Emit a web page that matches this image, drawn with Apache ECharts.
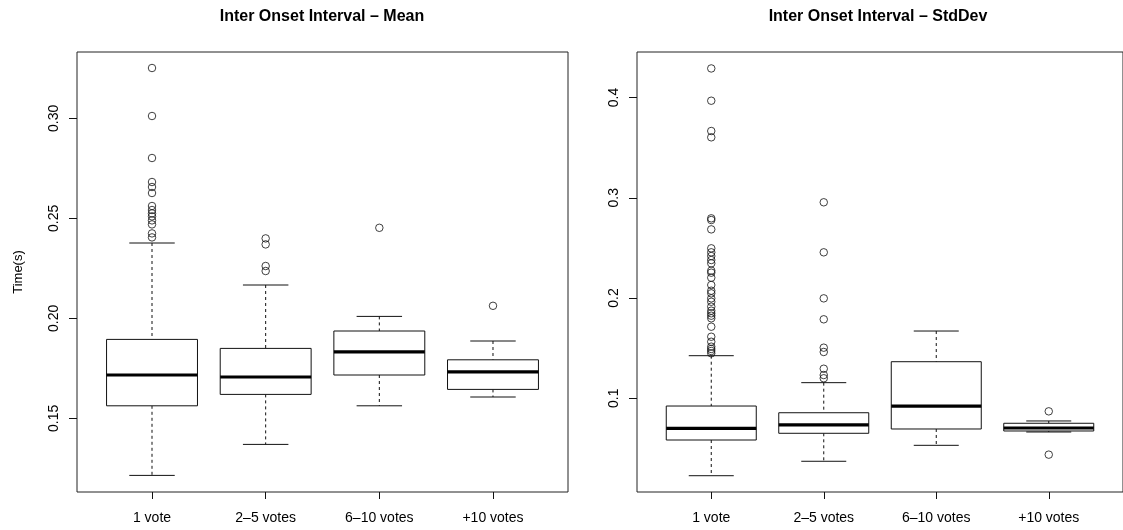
<!DOCTYPE html>
<html>
<head>
<meta charset="utf-8">
<script src="https://cdn.jsdelivr.net/npm/echarts@6/dist/echarts.min.js"></script>
<style>
html,body{margin:0;padding:0;background:#fff;}
#chart{width:1123px;height:530px;}
</style>
</head>
<body>
<div id="chart"></div>
<script>
const categories = ['1 vote', '2\u20135 votes', '6\u201310 votes', '+10 votes'];
const catPositions = [1, 2, 3, 4];

// Left panel: Inter Onset Interval – Mean
const meanLower  = [0.1215, 0.1370, 0.1563, 0.1607];
const meanQ1     = [0.1563, 0.1620, 0.1717, 0.1645];
const meanMedian = [0.1717, 0.1707, 0.1833, 0.1733];
const meanQ3     = [0.1895, 0.1850, 0.1937, 0.1793];
const meanUpper  = [0.2377, 0.2167, 0.2010, 0.1887];
const meanOutliers1 = [0.3252, 0.3012, 0.2802, 0.2682, 0.2657, 0.2627, 0.2562, 0.2542, 0.2525, 0.2510, 0.2490, 0.2470, 0.2425, 0.2405];
const meanOutliers2 = [0.2400, 0.2370, 0.2262, 0.2237];
const meanOutliers3 = [0.2453];
const meanOutliers4 = [0.2063];
const meanTicks = [0.15, 0.20, 0.25, 0.30];

// Right panel: Inter Onset Interval – StdDev
const sdLower  = [0.0228, 0.0372, 0.0531, 0.0664];
const sdQ1     = [0.0584, 0.0651, 0.0694, 0.0674];
const sdMedian = [0.0701, 0.0734, 0.0923, 0.0704];
const sdQ3     = [0.0923, 0.0856, 0.1365, 0.0751];
const sdUpper  = [0.1425, 0.1156, 0.1671, 0.0774];
const sdOutliers1 = [0.4290, 0.3968, 0.3666, 0.3603, 0.2795, 0.2778, 0.2685, 0.2496, 0.2456, 0.2419, 0.2379, 0.2346, 0.2273, 0.2253, 0.2203, 0.2130, 0.2073, 0.2047, 0.1997, 0.1963, 0.1914, 0.1874, 0.1848, 0.1824, 0.1798, 0.1714, 0.1614, 0.1564, 0.1515, 0.1492, 0.1472, 0.1449];
const sdOutliers2 = [0.2955, 0.2456, 0.1997, 0.1788, 0.1505, 0.1462, 0.1295, 0.1232, 0.1200];
const sdOutliers3 = [];
const sdOutliers4 = [0.0870, 0.0438];
const sdTicks = [0.1, 0.2, 0.3, 0.4];

const FONT = '"Liberation Sans", Arial, Helvetica, sans-serif';
const INK = '#111';

function boxData(lo, q1, med, q3, hi) {
  return catPositions.map((x, i) => [x, lo[i], q1[i], med[i], q3[i], hi[i]]);
}
function outlierData(groups) {
  const out = [];
  groups.forEach((g, i) => g.forEach(v => out.push([catPositions[i], v])));
  return out;
}

function renderBox(params, api) {
  const x = api.value(0), lo = api.value(1), q1 = api.value(2), med = api.value(3), q3 = api.value(4), hi = api.value(5);
  const half = 0.4, cap = 0.2;
  const pTL = api.coord([x - half, q3]);
  const pBR = api.coord([x + half, q1]);
  const mL = api.coord([x - half, med]);
  const mR = api.coord([x + half, med]);
  const c = api.coord([x, hi]);
  const cq3 = api.coord([x, q3]);
  const cq1 = api.coord([x, q1]);
  const cl = api.coord([x, lo]);
  const capHL = api.coord([x - cap, hi]), capHR = api.coord([x + cap, hi]);
  const capLL = api.coord([x - cap, lo]), capLR = api.coord([x + cap, lo]);
  const ls = {stroke: INK, lineWidth: 1, fill: null};
  const dash = {stroke: INK, lineWidth: 1, lineDash: [3, 3], fill: null};
  return {
    type: 'group',
    children: [
      {type: 'line', shape: {x1: c[0], y1: c[1], x2: cq3[0], y2: cq3[1]}, style: dash},
      {type: 'line', shape: {x1: cq1[0], y1: cq1[1], x2: cl[0], y2: cl[1]}, style: dash},
      {type: 'line', shape: {x1: capHL[0], y1: capHL[1], x2: capHR[0], y2: capHR[1]}, style: ls},
      {type: 'line', shape: {x1: capLL[0], y1: capLL[1], x2: capLR[0], y2: capLR[1]}, style: ls},
      {type: 'rect', shape: {x: pTL[0], y: pTL[1], width: pBR[0] - pTL[0], height: pBR[1] - pTL[1]}, style: {stroke: INK, lineWidth: 1, fill: '#fff'}},
      {type: 'line', shape: {x1: mL[0], y1: mL[1], x2: mR[0], y2: mR[1]}, style: {stroke: '#000', lineWidth: 3.2}}
    ]
  };
}

function xAxisDef(gridIndex) {
  return {
    type: 'value', gridIndex: gridIndex, min: 0.34, max: 4.66,
    axisLine: {show: false},
    splitLine: {show: false},
    axisTick: {show: true, inside: false, length: 7, customValues: catPositions, lineStyle: {color: INK, width: 1}},
    axisLabel: {show: true, customValues: catPositions, margin: 19, fontFamily: FONT, fontSize: 14, color: '#000',
      formatter: v => categories[Math.round(v) - 1]}
  };
}
function yAxisDef(gridIndex, min, max, ticks, digits, name) {
  return {
    type: 'value', gridIndex: gridIndex, min: min, max: max,
    name: name || '', nameLocation: 'middle', nameGap: 52, nameRotate: 90,
    nameTextStyle: {fontFamily: FONT, fontSize: 13, color: '#000'},
    axisLine: {show: false},
    splitLine: {show: false},
    axisTick: {show: true, inside: false, length: 8, customValues: ticks, lineStyle: {color: INK, width: 1}},
    axisLabel: {show: true, customValues: ticks, rotate: 90, margin: 16, fontFamily: FONT, fontSize: 14, color: '#000',
      formatter: v => Number(v).toFixed(digits)}
  };
}
const scatterStyle = {color: 'rgba(0,0,0,0)', borderColor: INK, borderWidth: 1};

const chart = echarts.init(document.getElementById('chart'), null, {renderer: 'canvas'});
chart.setOption({
  animation: false,
  backgroundColor: '#fff',
  title: [
    {text: 'Inter Onset Interval \u2013 Mean', left: 322, top: 9, textAlign: 'center', padding: 0,
      textStyle: {fontFamily: FONT, fontSize: 16, fontWeight: 'bold', color: '#000'}},
    {text: 'Inter Onset Interval \u2013 StdDev', left: 878, top: 9, textAlign: 'center', padding: 0,
      textStyle: {fontFamily: FONT, fontSize: 16, fontWeight: 'bold', color: '#000'}}
  ],
  grid: [
    {left: 77, top: 52, width: 491, height: 440, show: true, borderColor: '#222', borderWidth: 1, backgroundColor: 'transparent'},
    {left: 637, top: 52, width: 491, height: 440, show: true, borderColor: '#222', borderWidth: 1, backgroundColor: 'transparent'}
  ],
  xAxis: [xAxisDef(0), xAxisDef(1)],
  yAxis: [
    yAxisDef(0, 0.1132, 0.3332, meanTicks, 2, 'Time(s)'),
    yAxisDef(1, 0.00655, 0.4454, sdTicks, 1, '')
  ],
  series: [
    {type: 'custom', xAxisIndex: 0, yAxisIndex: 0, renderItem: renderBox, encode: {x: 0, y: [1, 2, 3, 4, 5]},
      data: boxData(meanLower, meanQ1, meanMedian, meanQ3, meanUpper), silent: true},
    {type: 'scatter', xAxisIndex: 0, yAxisIndex: 0, symbol: 'circle', symbolSize: 7.5, itemStyle: scatterStyle,
      data: outlierData([meanOutliers1, meanOutliers2, meanOutliers3, meanOutliers4]), silent: true},
    {type: 'custom', xAxisIndex: 1, yAxisIndex: 1, renderItem: renderBox, encode: {x: 0, y: [1, 2, 3, 4, 5]},
      data: boxData(sdLower, sdQ1, sdMedian, sdQ3, sdUpper), silent: true},
    {type: 'scatter', xAxisIndex: 1, yAxisIndex: 1, symbol: 'circle', symbolSize: 7.5, itemStyle: scatterStyle,
      data: outlierData([sdOutliers1, sdOutliers2, sdOutliers3, sdOutliers4]), silent: true}
  ]
});
</script>
</body>
</html>
